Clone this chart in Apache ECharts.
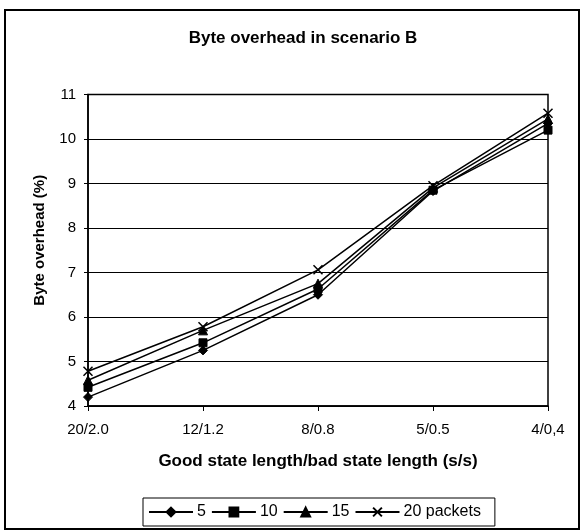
<!DOCTYPE html>
<html>
<head>
<meta charset="utf-8">
<script src="https://cdn.jsdelivr.net/npm/echarts@6/dist/echarts.min.js"></script>
<style>
  html, body { margin: 0; padding: 0; background: #fff; }
  #chart { width: 582px; height: 530px; }
</style>
</head>
<body>
<div id="chart"></div>
<script>
// Good state length / bad state length (s/s)
const categories = ['20/2.0', '12/1.2', '8/0.8', '5/0.5', '4/0,4'];

// Byte overhead (%) per packet setting
const packets5  = [4.20, 5.25, 6.50, 8.83, 10.35];
const packets10 = [4.42, 5.42, 6.63, 8.85, 10.20];
const packets15 = [4.58, 5.70, 6.75, 8.90, 10.45];
const packets20 = [4.78, 5.78, 7.06, 8.95, 10.58];

const yTicks = [4, 5, 6, 7, 8, 9, 10, 11];

const FONT = 'Liberation Sans, Arial, sans-serif';
const crossPath = 'path://M0,0 L10,10 M10,0 L0,10';

function lineSeries(name, data, symbol, size) {
  return {
    name: name,
    type: 'line',
    data: data,
    symbol: symbol,
    symbolSize: size,
    showAllSymbol: true,
    lineStyle: { color: '#000', width: 1.5 },
    itemStyle: { color: '#000', borderColor: '#000', borderWidth: 1 },
    emphasis: { disabled: true },
    animation: false
  };
}

const chart = echarts.init(document.getElementById('chart'), null, { renderer: 'canvas' });

chart.setOption({
  backgroundColor: '#fff',
  animation: false,
  title: {
    text: 'Byte overhead in scenario B',
    left: 298,
    textAlign: 'center',
    top: 25,
    textStyle: { fontFamily: FONT, fontSize: 17, fontWeight: 'bold', color: '#000' }
  },
  graphic: [{
    type: 'rect',
    shape: { x: 5, y: 10, width: 574, height: 519 },
    style: { fill: 'none', stroke: '#000', lineWidth: 2 },
    silent: true,
    z: -1
  }],
  legend: {
    left: 143,
    top: 498,
    padding: [6, 14, 6, 5],
    itemGap: 5,
    itemWidth: 44,
    itemHeight: 11,
    borderColor: '#000',
    borderWidth: 1,
    borderRadius: 0,
    textStyle: { fontFamily: FONT, fontSize: 16, color: '#000', padding: [0, 0, 0, -1] },
    data: ['5', '10', '15', '20 packets'],
    selectedMode: false
  },
  grid: {
    left: 88,
    right: 34,
    top: 94.5,
    bottom: 124,
    show: true,
    borderColor: '#000',
    borderWidth: 1.5,
    containLabel: false
  },
  xAxis: {
    type: 'category',
    data: categories,
    boundaryGap: false,
    axisLine: { lineStyle: { color: '#000', width: 1.5 } },
    axisTick: { show: true, inside: false, length: 5, lineStyle: { color: '#000', width: 1 } },
    axisLabel: { fontFamily: FONT, fontSize: 15, color: '#000', margin: 16 },
    name: 'Good state length/bad state length (s/s)',
    nameLocation: 'middle',
    nameGap: 47,
    nameTextStyle: { fontFamily: FONT, fontSize: 17, fontWeight: 'bold', color: '#000' },
    splitLine: { show: false }
  },
  yAxis: {
    type: 'value',
    min: yTicks[0],
    max: yTicks[yTicks.length - 1],
    interval: 1,
    axisLine: { show: true, lineStyle: { color: '#000', width: 1.5 } },
    axisTick: { show: true, length: 4, lineStyle: { color: '#000', width: 1 } },
    axisLabel: { fontFamily: FONT, fontSize: 15, color: '#000', margin: 12 },
    splitLine: { show: true, lineStyle: { color: '#000', width: 1 } },
    name: 'Byte overhead (%)',
    nameLocation: 'middle',
    nameGap: 41,
    nameRotate: 90,
    nameTextStyle: { fontFamily: FONT, fontSize: 15, fontWeight: 'bold', color: '#000', padding: [0, 0, 0, 20] }
  },
  series: [
    lineSeries('5', packets5, 'diamond', 9),
    lineSeries('10', packets10, 'rect', 8),
    lineSeries('15', packets15, 'triangle', 9),
    Object.assign(lineSeries('20 packets', packets20, crossPath, 9), {
      itemStyle: { color: 'none', borderColor: '#000', borderWidth: 1.5 }
    })
  ]
});
</script>
</body>
</html>
